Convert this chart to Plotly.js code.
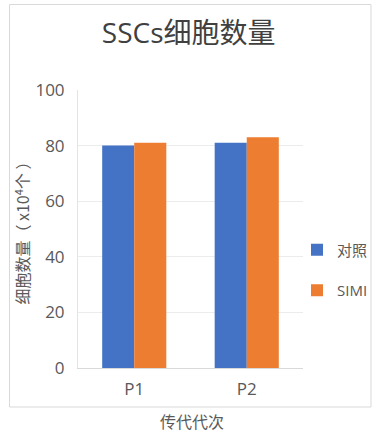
<!DOCTYPE html>
<html>
<head>
<meta charset="utf-8">
<script src="https://cdn.plot.ly/plotly-3.0.1.min.js"></script>
<style>
html,body{margin:0;padding:0;background:#fff;}
#chart{width:389px;height:444px;}
</style>
</head>
<body>
<div id="chart"></div>
<script>
const categories = ["P1", "P2"];
const controlValues = [80, 81];
const simiValues = [81, 83];
const seriesNames = ["对照", "SIMI"];
const yTicks = [0, 20, 40, 60, 80, 100];

const FONT = '"Open Sans", "Noto Sans CJK SC", sans-serif';
const CJK = '"Noto Sans CJK SC", sans-serif';
const TXT = '#595959';

const traces = [
  {type: 'bar', x: categories, y: controlValues, name: seriesNames[0], legendgroup: 'a',
   marker: {color: '#4472C4'}, hoverinfo: 'none'},
  {type: 'bar', x: categories, y: simiValues, name: seriesNames[1], legendgroup: 'b',
   marker: {color: '#ED7D31'}, hoverinfo: 'none'}
];

// plot area: x 78..303, y 90..368
const W = 389, H = 444, L = 78, R = 86, T = 90, B = 76;
const pw = W - L - R, ph = H - T - B;
const px = v => (v - L) / pw;
const py = v => (H - B - v) / ph;

const layout = {
  width: W, height: H,
  margin: {l: L, r: R, t: T, b: B, pad: 0, autoexpand: false},
  paper_bgcolor: '#ffffff',
  plot_bgcolor: '#ffffff',
  font: {family: FONT, color: TXT},
  title: {text: 'SSCs细胞数量', x: 0.485, xanchor: 'center', y: 0.925, yanchor: 'middle',
          font: {family: FONT, size: 28, color: '#404040'}},
  barmode: 'group',
  bargap: 0.43,
  bargroupgap: 0,
  showlegend: true,
  legend: {xref: 'container', yref: 'container', x: 297 / W, xanchor: 'left',
           y: (H - 270) / H, yanchor: 'middle',
           font: {family: FONT, size: 15, color: TXT},
           tracegroupgap: 18, itemwidth: 30, bgcolor: 'rgba(0,0,0,0)'},
  xaxis: {
    type: 'category',
    showgrid: false,
    showline: true, linecolor: '#d9d9d9', linewidth: 1,
    ticks: '', tickfont: {family: FONT, size: 17, color: TXT},
    ticklabelstandoff: 6,
    fixedrange: true
  },
  yaxis: {
    range: [0, 100],
    tickvals: yTicks,
    ticktext: yTicks.map(String),
    showgrid: true, gridcolor: '#ececec', gridwidth: 1,
    showline: true, linecolor: '#e3e3e3', linewidth: 1,
    zeroline: false,
    ticks: '', tickfont: {family: FONT, size: 17, color: TXT},
    ticklabelstandoff: 9,
    title: {text: '细胞数量（ x10<sup>4</sup>个 ）', standoff: 1,
            font: {family: CJK, size: 16, color: TXT}},
    fixedrange: true
  },
  annotations: [
    {text: '传代代次', xref: 'paper', yref: 'paper', x: px(192), y: py(421),
     xanchor: 'center', yanchor: 'middle', showarrow: false,
     font: {family: CJK, size: 16, color: TXT}}
  ],
  shapes: [
    {type: 'rect', xref: 'paper', yref: 'paper', x0: px(9.5), x1: px(371), y0: py(407), y1: py(4.5),
     line: {color: '#d9d9d9', width: 1}, fillcolor: 'rgba(0,0,0,0)', layer: 'below'}
  ]
};

Plotly.newPlot('chart', traces, layout, {displayModeBar: false, staticPlot: true});
</script>
</body>
</html>
